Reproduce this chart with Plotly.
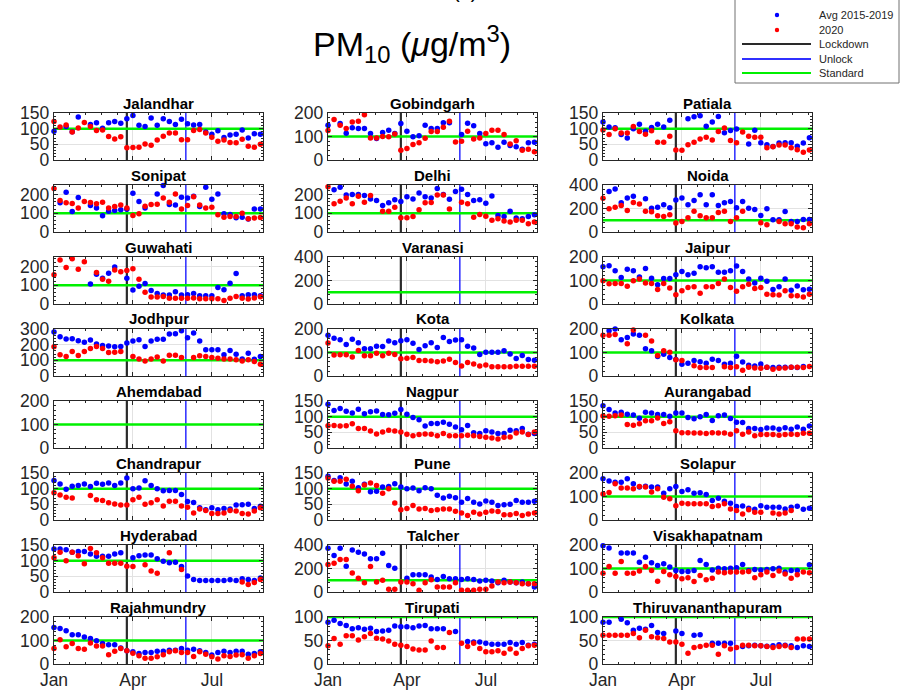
import datetime as dt
import plotly.graph_objects as go

W, H = 903, 691

# ---------------- data ----------------
start_date = dt.date(2020, 1, 1)
end_date = dt.date(2020, 8, 29)
n_weeks = 35
weeks = [start_date + dt.timedelta(days=7 * i) for i in range(n_weeks)]
lockdown_date = dt.date(2020, 3, 25)
unlock_date = dt.date(2020, 6, 1)
standard_pm10 = 100
tick_dates = ["2020-01-01", "2020-04-01", "2020-07-01"]
tick_labels = ["Jan", "Apr", "Jul"]

N = None
jalandhar_avg = [92, N, 107, 90, 137, N, 113, 119, 101, 119, 123, 117, 132, 142, 111, 107, 134, 111, 132, 123, 113, 130, 116, 112, 113, 89, 82, 93, 72, 80, 82, 96, 70, 84, 82]
jalandhar_2020 = [123, 105, 112, 89, 102, 120, 107, 94, 96, 75, 67, 74, 39, 40, 41, 51, 47, 64, 76, 86, 86, 65, 65, 94, 97, 86, 73, 60, 64, 56, 55, 66, 44, 41, 50]
gobindgarh_avg = [148, N, 155, 114, 137, 134, 134, 113, 92, 117, 127, 113, 155, 122, 99, 103, 148, 134, 134, 158, 159, N, 108, 156, 146, 113, 69, 73, 54, 76, 62, 56, 46, 73, 75]
gobindgarh_2020 = [125, 172, 148, 134, 162, 165, 193, 94, 94, 100, 99, 111, 42, 49, 66, 73, 93, 121, 121, 139, 165, 77, 80, 122, 89, 94, 113, 127, 127, 108, 68, 82, 42, 46, 35]
patiala_avg = [121, 105, 103, 81, 70, 100, 114, 92, 104, 114, 105, 127, N, N, 132, 138, 141, 108, 121, 139, 87, 94, 99, N, 51, 95, 55, 49, 43, 54, 55, 55, 44, 54, 71]
patiala_2020 = [96, 81, 100, 86, 86, 107, 91, 82, 93, 57, 57, 76, 32, 31, 49, 57, 67, 73, 64, 91, 102, 62, 55, 89, 76, 73, 73, 39, 42, 48, 48, 39, 33, 25, 32]
sonipat_avg = [N, 155, 211, 109, 183, N, 141, 128, 86, 111, 114, 118, 121, 206, 162, 128, N, 202, 248, 146, 144, 185, 181, 190, 135, 238, 174, 202, 97, 93, 76, 79, 69, 123, 123]
sonipat_2020 = [232, 167, 155, 151, 128, 162, 157, 150, 158, 128, 136, 144, 128, 88, 97, 137, 146, 148, 181, 158, 202, 123, 141, 188, 144, 128, 132, 92, 79, 83, 83, 100, 70, 74, 77]
delhi_avg = [N, 225, 238, 197, 199, 199, 194, 176, 167, 141, 155, 171, 162, 188, 176, 208, 188, 181, 231, 199, 174, 216, 227, 199, 167, 171, 153, 192, 88, 83, 111, 74, 70, 83, 92]
delhi_2020 = [241, 150, 164, 181, 150, 190, 158, 194, N, 111, 111, 132, 76, 76, 83, 118, 155, 157, 197, 197, 123, N, 158, 150, 79, 93, 84, 62, 70, 58, 53, 62, 62, 44, 53]
noida_avg = [N, 344, 366, 248, 290, 304, N, 282, 203, 211, 231, 206, 273, 290, 231, 268, 316, 231, 318, 225, 248, 259, 206, 259, 203, 192, 141, 197, 104, 104, 175, 90, 90, 107, 107]
noida_2020 = [287, 197, 211, 225, 183, 251, 239, 177, 172, 138, 132, 146, 76, 90, 121, 177, 138, 121, 121, 166, 177, 90, 121, 177, N, N, 79, 62, N, 90, 70, 70, 42, 37, 70]
guwahati_avg = [N, N, N, N, N, N, 106, 158, 137, 164, 197, N, 137, 74, 95, 109, 72, 56, 48, 48, 65, 48, 49, 56, 44, 44, 44, 88, 76, 111, 162, 44, 49, 49, 44]
guwahati_2020 = [155, 234, 194, 241, 185, 225, N, 167, 132, 121, 181, 171, 178, 188, 132, 62, 37, 37, 40, 30, 30, 30, 30, 32, 28, 28, 28, 28, 19, 30, 40, 30, 26, 32, 39]
varanasi_avg = [N] * 35
varanasi_2020 = [N] * 35
jaipur_avg = [158, 163, 142, 113, 148, 141, 115, 151, 110, 82, 108, 108, 124, 138, 124, 131, 158, 154, 158, 135, 135, 141, 162, 138, 106, 89, 110, 97, 62, 73, 106, 59, 77, 61, 63]
jaipur_2020 = [99, 86, 87, 87, 75, 99, 106, 89, 87, 62, 87, 68, 39, 56, 70, 73, 46, 73, 73, 87, 106, 70, 54, 73, 84, 66, 70, 42, 39, 38, 56, 35, 35, 30, 42]
jodhpur_avg = [281, 251, 236, 238, 225, 216, 229, 204, 195, 191, 186, 189, 210, 223, 231, 189, 223, 234, 234, 268, 270, 289, 244, 274, 223, 167, 167, 167, 135, 163, 139, 109, 146, 107, 124]
jodhpur_2020 = [186, 135, 124, 156, 131, 156, 176, 189, 176, 150, 152, 156, N, 124, 109, 96, 109, 122, 96, 133, 133, 118, N, 118, 129, 124, 118, 114, 109, 109, 103, 96, 103, 92, 75]
kota_avg = [173, 161, 154, 134, 156, 141, 116, 116, 127, 126, 149, 141, 150, 154, 139, 113, 129, 141, 121, 164, 147, 153, 154, 127, 119, 91, 101, 101, 101, 107, 94, 74, 87, 70, 67]
kota_2020 = [140, 89, 90, 90, 81, 109, 86, 86, 97, 86, 97, 91, 73, 76, 79, 66, 66, 64, 61, 64, 71, 57, 43, 57, 51, 43, 47, 39, 39, 39, 39, 41, 41, 41, 41]
kolkata_avg = [N, 193, 200, 154, 164, 179, 173, 116, 107, 83, 93, 79, 70, 50, 54, 66, 61, 54, 71, 66, 50, 54, 84, 60, 46, 43, 51, 37, 36, 37, 37, 37, 36, 40, N]
kolkata_2020 = [173, 173, 177, 201, 137, 196, N, 173, 149, 87, 107, 101, 69, 66, N, 44, 36, 36, 36, N, 39, 36, 39, 24, 37, 34, 33, 37, 29, 33, 34, 37, 37, 36, 40]
ahemdabad_avg = [N] * 35
ahemdabad_2020 = [N] * 35
nagpur_avg = [140, 120, 126, 117, 112, 124, 109, 116, 118, 107, 106, 111, 123, 108, 97, 90, 70, 78, 78, 82, 76, 67, 58, 72, 49, 46, 55, 51, 46, 46, 57, 55, 62, 44, 46]
nagpur_2020 = [71, 72, 70, 71, 77, 62, 62, 54, 45, 51, 57, 54, 51, 44, 39, 43, 45, 44, 39, 46, 39, 39, 39, 41, 39, 37, 34, 32, 29, 34, 35, 48, 51, 43, 51]
aurangabad_avg = [135, 123, 112, 114, 108, 105, 95, 114, 112, 107, 107, 101, 112, 112, 97, 93, 100, 107, 88, 103, 105, 94, 82, 81, 62, 62, 59, 64, 64, 60, 65, 60, 67, 60, 70]
aurangabad_2020 = [102, 101, 103, 105, 75, 73, 77, 87, 87, 96, 78, 84, 55, 49, 49, 48, 48, 46, 49, 48, 48, 44, 55, 44, 51, 39, 43, 43, 43, 41, 43, 44, 43, 47, 47]
chandrapur_avg = [126, 115, 98, 108, 110, 115, 107, 117, 114, 118, 110, 118, 134, 100, 102, 125, 110, 100, 93, 94, 94, 81, 59, 56, 39, 33, 39, 33, 37, 35, 48, 49, 50, 37, 44]
chandrapur_2020 = [87, 80, 73, 70, N, N, 78, 65, 62, 55, 51, 48, 48, 65, 73, 50, 55, 65, 45, 60, 60, 45, 41, 22, 35, 30, 21, 21, 22, 30, 29, 21, 19, 29, 39]
pune_avg = [140, 126, 135, 115, 124, 103, 114, 90, 92, 105, 107, 116, 105, 100, 102, 93, 103, 100, 79, 70, 76, 71, 57, 69, 57, 51, 61, 57, 46, 49, 50, 62, 57, 57, 60]
pune_2020 = [134, 124, 124, 130, 108, 93, 112, 118, 110, 85, 100, 54, 33, 37, 46, 35, 37, 30, 33, 35, 35, 28, 22, 14, 25, 19, 25, 29, 27, 17, 17, 21, 14, 19, 22]
solapur_avg = [176, 166, 161, 161, 176, 154, 140, 144, 140, 140, 114, 133, 143, 121, 129, 114, 116, 109, 83, 93, 80, 71, 57, 60, 50, 46, 61, 54, 54, 54, 47, 54, 59, 46, 50]
solapur_2020 = [111, 117, 154, 136, 136, 133, 143, 140, 119, 133, 97, 90, 61, 71, 69, 69, 69, 69, 57, 61, 69, 47, 40, 26, 44, 33, 33, N, 30, 26, 30, 40, N, N, N]
hyderabad_avg = [137, 137, 135, 127, 129, 129, 121, 114, 114, 114, 121, 125, N, 109, 116, 118, 118, 106, 98, 93, 95, 81, 51, 40, 37, 37, 37, 37, 37, 39, 37, 42, 40, 37, 45]
hyderabad_2020 = [109, 127, 100, 127, 116, 90, 139, 125, 109, 92, 92, 92, 82, 81, N, 87, 67, 60, N, 125, N, 72, N, N, N, N, N, N, N, N, N, 32, 24, 30, 40]
talcher_avg = [372, 310, 372, 220, 358, 338, 324, 282, 282, 330, 225, 203, N, 118, 146, 146, 146, 127, 107, 132, 113, 113, 107, 113, 107, 93, 99, 93, 79, 99, 85, 79, 85, 70, 42]
talcher_2020 = [234, 245, 276, 276, 161, 118, 79, 217, 85, 99, 23, 23, 85, 85, 70, 14, 79, 104, 42, 42, 42, 79, 14, 14, 14, 23, 23, 51, 85, 79, 85, 79, 70, 70, 70]
visakhapatnam_avg = [197, 187, N, 166, 166, 166, 127, 148, 124, 113, 120, 106, 92, 87, 87, 92, 134, 117, 94, 101, 99, 101, 103, 117, 92, 96, 94, 96, 99, 101, 85, 92, 92, N, 116]
visakhapatnam_2020 = [80, 108, 80, 130, 80, 80, 89, 108, 92, 46, 87, 73, 66, 56, 61, 45, 70, 52, 59, 85, 82, 85, 85, 85, 87, 61, 73, 85, 70, 89, 77, 59, 73, 85, 82]
rajahmundry_avg = [155, 151, 141, 124, 124, 115, 108, 99, 87, 82, 82, 68, 56, 52, 45, 49, 49, 54, 54, 59, 59, 66, 59, 63, 56, 49, 38, 49, 54, 49, 54, 54, 42, 45, 52]
rajahmundry_2020 = [66, 103, 73, 87, 66, 63, 89, 77, 77, 39, 54, 66, 56, 46, 35, 24, 24, 31, 39, 52, 56, 49, 49, 32, 52, 42, 31, 21, 35, 32, 38, 39, 24, 35, 45]
tirupati_avg = [89, 93, 86, 82, 75, 77, 74, 76, 69, 70, 72, 81, 79, 79, 77, 81, 82, 75, 75, 75, N, 69, N, 48, 47, 47, 44, 42, 42, 42, 46, 42, 46, 40, 42]
tirupati_2020 = [39, 54, 42, 60, 60, 51, 58, 65, 55, 53, 49, 42, 40, 37, 32, 30, 30, 49, 35, 35, 67, N, 44, 37, 44, 33, 26, 26, 28, 23, 32, 23, 33, 39, 40]
thiruvananthapuram_avg = [89, 89, N, 95, 88, 72, 76, 74, 82, 67, 65, N, 70, 65, N, 61, 62, N, 44, 44, 44, 44, N, 37, 39, 40, 39, 38, 39, 41, 40, 39, 35, 39, 37]
thiruvananthapuram_2020 = [61, 61, 61, 61, 61, 65, 56, 72, 58, 56, 54, 47, 47, 42, 23, 35, 37, 40, 40, 21, 39, 32, 35, 40, 40, 39, 39, 37, 35, 37, 39, 35, 53, 53, 53]

city_names = ["Jalandhar", "Gobindgarh", "Patiala", "Sonipat", "Delhi", "Noida",
              "Guwahati", "Varanasi", "Jaipur", "Jodhpur", "Kota", "Kolkata",
              "Ahemdabad", "Nagpur", "Aurangabad", "Chandrapur", "Pune", "Solapur",
              "Hyderabad", "Talcher", "Visakhapatnam", "Rajahmundry", "Tirupati",
              "Thiruvananthapuram"]
avg_series = [jalandhar_avg, gobindgarh_avg, patiala_avg, sonipat_avg, delhi_avg, noida_avg,
              guwahati_avg, varanasi_avg, jaipur_avg, jodhpur_avg, kota_avg, kolkata_avg,
              ahemdabad_avg, nagpur_avg, aurangabad_avg, chandrapur_avg, pune_avg, solapur_avg,
              hyderabad_avg, talcher_avg, visakhapatnam_avg, rajahmundry_avg, tirupati_avg,
              thiruvananthapuram_avg]
cur_series = [jalandhar_2020, gobindgarh_2020, patiala_2020, sonipat_2020, delhi_2020, noida_2020,
              guwahati_2020, varanasi_2020, jaipur_2020, jodhpur_2020, kota_2020, kolkata_2020,
              ahemdabad_2020, nagpur_2020, aurangabad_2020, chandrapur_2020, pune_2020, solapur_2020,
              hyderabad_2020, talcher_2020, visakhapatnam_2020, rajahmundry_2020, tirupati_2020,
              thiruvananthapuram_2020]
y_max = [150, 200, 150, 250, 250, 400, 250, 400, 200, 300, 200, 200,
         200, 150, 150, 150, 150, 200, 150, 400, 200, 200, 100, 100]
y_step = {100: 50, 150: 50, 200: 100, 250: 100, 300: 100, 400: 200}

legend_labels = ["Avg 2015-2019", "2020", "Lockdown", "Unlock", "Standard"]

# ---------------- style / layout ----------------
BLUE = "#0000ff"
RED = "#ff0000"
GREEN = "#00f000"
DARK = "#262626"
LOCK_COL = "#2a2a2a"
UNLOCK_COL = "rgba(20,20,255,0.85)"
FONT = "Liberation Sans, Arial, Helvetica, sans-serif"

col_left = [54, 328, 603]
pw, ph = 209, 47
row_top0, row_pitch = 113, 72


def px(x):
    return x / W


def py(y):
    return 1 - y / H


fig = go.Figure()
layout = dict(width=W, height=H, margin=dict(l=0, r=0, t=0, b=0, autoexpand=False),
              paper_bgcolor="white", plot_bgcolor="white", showlegend=False,
              font=dict(family=FONT, color=DARK))
shapes, annotations = [], []
day_ms = 86400000

for k, name in enumerate(city_names):
    r, c = divmod(k, 3)
    x0 = col_left[c]
    top = row_top0 + row_pitch * r
    sfx = "" if k == 0 else str(k + 1)
    xa, ya = "x" + sfx, "y" + sfx
    ymax = y_max[k]
    step = y_step[ymax]
    layout["xaxis" + sfx] = dict(
        domain=[px(x0), px(x0 + pw)], anchor=ya, type="date", automargin=False,
        range=[start_date.isoformat(), end_date.isoformat()],
        tickvals=tick_dates, ticktext=tick_labels, showticklabels=(r == 7),
        tickfont=dict(size=17.5, color=DARK, family=FONT),
        ticks="inside", ticklen=4, tickwidth=1, tickcolor=DARK,
        showline=True, linecolor=DARK, linewidth=1.4, mirror="ticks",
        showgrid=True, gridcolor="#e2e2e2", gridwidth=1, zeroline=False,
        minor=dict(ticks="inside", ticklen=2, tickcolor=DARK,
                   dtick=91 * day_ms / 5, tick0="2020-01-01", showgrid=False),
    )
    layout["yaxis" + sfx] = dict(
        domain=[py(top + ph), py(top)], anchor=xa, range=[0, ymax], automargin=False,
        tickvals=list(range(0, ymax + 1, step)),
        tickfont=dict(size=17.5, color=DARK, family=FONT),
        ticks="inside", ticklen=4, tickwidth=1, tickcolor=DARK,
        showline=True, linecolor=DARK, linewidth=1.4, mirror="ticks",
        showgrid=True, gridcolor="#e2e2e2", gridwidth=1, zeroline=False,
        minor=dict(ticks="inside", ticklen=2, tickcolor=DARK,
                   dtick=step / 5, showgrid=False),
    )
    # reference lines: lockdown, unlock (vertical) and the PM10 standard (horizontal)
    fig.add_trace(go.Scatter(x=[lockdown_date, lockdown_date], y=[0, ymax], mode="lines",
                             name=legend_labels[2], line=dict(color=LOCK_COL, width=2.2),
                             xaxis=xa, yaxis=ya, hoverinfo="skip"))
    fig.add_trace(go.Scatter(x=[unlock_date, unlock_date], y=[0, ymax], mode="lines",
                             name=legend_labels[3], line=dict(color=UNLOCK_COL, width=1.6),
                             xaxis=xa, yaxis=ya, hoverinfo="skip"))
    fig.add_trace(go.Scatter(x=[start_date, end_date], y=[standard_pm10, standard_pm10],
                             mode="lines", name=legend_labels[4], line=dict(color=GREEN, width=2.5),
                             cliponaxis=False, xaxis=xa, yaxis=ya, hoverinfo="skip"))
    fig.add_trace(go.Scatter(x=weeks, y=avg_series[k], mode="markers", name=legend_labels[0],
                             marker=dict(color=BLUE, size=5.5), cliponaxis=False,
                             xaxis=xa, yaxis=ya, hoverinfo="skip"))
    fig.add_trace(go.Scatter(x=weeks, y=cur_series[k], mode="markers", name=legend_labels[1],
                             marker=dict(color=RED, size=5.5), cliponaxis=False,
                             xaxis=xa, yaxis=ya, hoverinfo="skip"))
    annotations.append(dict(text="<b>%s</b>" % name, x=px(x0 + pw / 2), y=py(top - 10),
                            xref="paper", yref="paper", xanchor="center", yanchor="middle",
                            showarrow=False, font=dict(size=15, color="black", family=FONT)))

# main title and panel label
annotations.append(dict(text="PM<sub>10</sub> (<i>\u03bc</i>g/m<sup>3</sup>)", x=px(412), y=py(44),
                        xref="paper", yref="paper", xanchor="center", yanchor="middle",
                        showarrow=False, font=dict(size=34, color="black", family=FONT)))
annotations.append(dict(text="(a)", x=px(465), y=py(4), xref="paper", yref="paper",
                        xanchor="center", yanchor="bottom", showarrow=False,
                        font=dict(size=20, color="black", family=FONT)))

# legend box (drawn by hand to match the original layout)
shapes.append(dict(type="rect", xref="paper", yref="paper", x0=px(735), x1=px(899),
                   y0=py(83), y1=py(-3), line=dict(color="#707070", width=1),
                   fillcolor="white", layer="above"))
leg_y = [15, 30, 44, 59, 73]
leg_style = [("dot", BLUE), ("dot", RED), ("line", LOCK_COL), ("line", "#3030ff"), ("line", GREEN)]
for lab, yy, (kind, col) in zip(legend_labels, leg_y, leg_style):
    if kind == "dot":
        shapes.append(dict(type="circle", xref="paper", yref="paper",
                           x0=px(777 - 2.2), x1=px(777 + 2.2), y0=py(yy + 2.2), y1=py(yy - 2.2),
                           fillcolor=col, line=dict(width=0), layer="above"))
    else:
        shapes.append(dict(type="line", xref="paper", yref="paper", x0=px(742), x1=px(811),
                           y0=py(yy), y1=py(yy), line=dict(color=col, width=2), layer="above"))
    annotations.append(dict(text=lab, x=px(817), y=py(yy), xref="paper", yref="paper",
                            xanchor="left", yanchor="middle", showarrow=False,
                            font=dict(size=11, color=DARK, family=FONT)))

layout["shapes"] = shapes
layout["annotations"] = annotations
fig.update_layout(**layout)
fig.write_html("out.html", config={"displayModeBar": False},
               post_script="document.body.style.margin='0px';document.body.style.overflow='hidden';")
